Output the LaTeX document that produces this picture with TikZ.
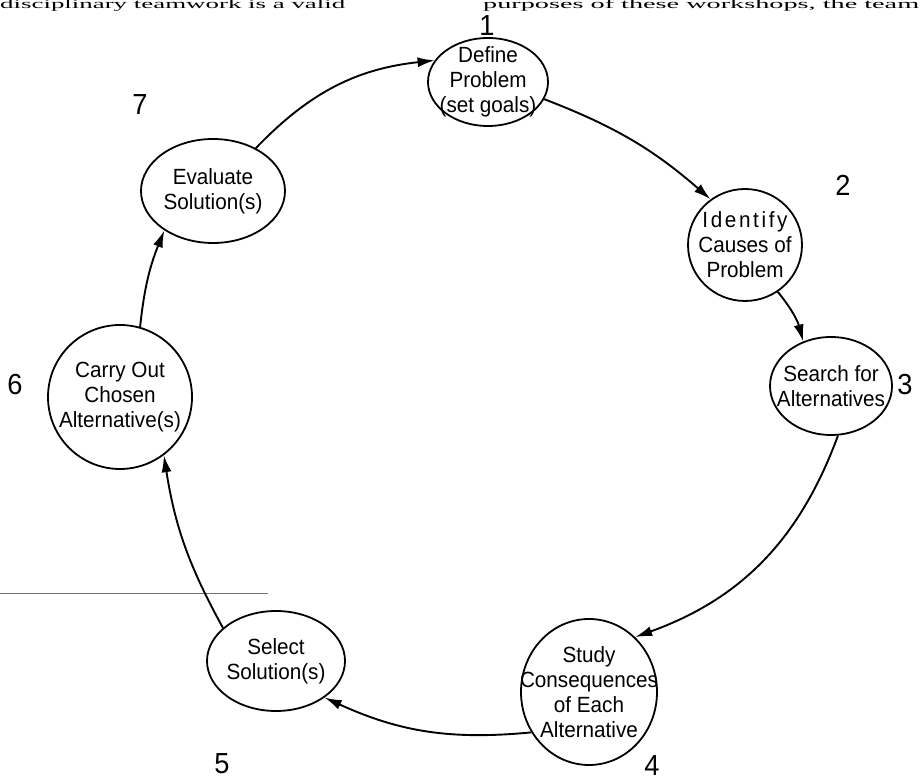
\documentclass[tikz,border=0pt]{standalone}
\usepackage{fontspec}
\setmainfont{Liberation Sans}
\newfontfamily\leroy[FakeStretch=0.94]{Liberation Sans}
\newfontfamily\pageserif{Liberation Serif}
\usetikzlibrary{shapes.geometric,arrows.meta}
\begin{document}
\begin{tikzpicture}[x=1pt,y=1pt,
  stage/.style={ellipse,draw,line width=1.8pt,inner sep=0pt},
  stagetext/.style={align=center,inner sep=0pt,font=\leroy\fontsize{22}{25}\selectfont},
  num/.style={inner sep=0pt,font=\leroy\fontsize{29}{29}\selectfont},
  flow/.style={line width=1.9pt,-{Latex[length=17pt,width=10pt]}},
  pagetext/.style={inner sep=0pt,anchor=south west}]
\useasboundingbox (0,0) rectangle (920,783);
\fill[white] (0,0) rectangle (920,783);
% page text at the top
\node[pagetext] (ptl) at (0,771) {\resizebox*{345pt}{12pt}{\pageserif disciplinary teamwork is a valid}};
\node[pagetext] (ptr) at (483,771) {\resizebox*{436pt}{12pt}{\pageserif purposes of these workshops, the team}};
% stray scan line
\coordinate (ls) at (0,189);
\coordinate (le) at (268,189);
\draw[line width=1pt,black!55] (ls) -- (le);
% stages
\node[stage,minimum width=120,minimum height=88] (n1) at (488,701) {};
\node[stage,minimum width=114,minimum height=112] (n2) at (745,538) {};
\node[stage,minimum width=122,minimum height=98] (n3) at (831,397) {};
\node[stage,minimum width=136,minimum height=146] (n4) at (589,91) {};
\node[stage,minimum width=138,minimum height=100] (n5) at (276,122) {};
\node[stage,minimum width=144,minimum height=144] (n6) at (120,386) {};
\node[stage,minimum width=144,minimum height=104] (n7) at (213,592) {};
\node[stagetext] (t1) at (n1) {Define\\Problem\\(set goals)};
\node[stagetext] (t2) at (n2) {\addfontfeature{LetterSpace=12}Identify\\Causes of\\Problem};
\node[stagetext] (t3) at (n3) {Search for\\Alternatives};
\node[stagetext] (t4) at (n4) {Study\\Consequences\\of Each\\Alternative};
\node[stagetext] (t5) at (n5) {Select\\Solution(s)};
\node[stagetext] (t6) at (n6) {Carry Out\\Chosen\\Alternative(s)};
\node[stagetext] (t7) at (n7) {Evaluate\\Solution(s)};
% numbers
\node[num] (l1) at (487,757) {1};
\node[num] (l2) at (843,598) {2};
\node[num] (l3) at (905,398) {3};
\node[num] (l4) at (652,17) {4};
\node[num] (l5) at (222,19) {5};
\node[num] (l6) at (15,398) {6};
\node[num] (l7) at (140,678) {7};
% connectors
\draw[flow] (n1.-17) to[bend left=10] (n2.127);
\draw[flow] (n2.-55) to[bend left=12] (n3.122);
\draw[flow] (n3.-82) to[bend left=25] (n4.50);
\draw[flow] (n4.215) to[bend left=15] (n5.-37);
\draw[flow] (n5.148) to[bend left=10] (n6.-53);
\draw[flow] (n6.74) to[bend left=8] (n7.219);
\draw[flow] (n7.45) to[bend left=20] (n1.158);
\end{tikzpicture}
\end{document}
